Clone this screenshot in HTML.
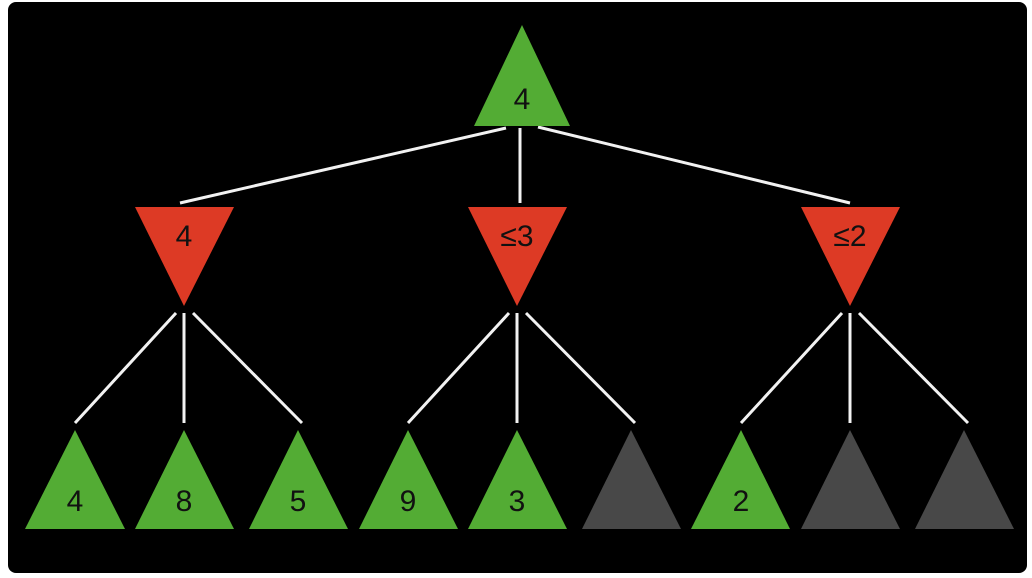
<!DOCTYPE html>
<html><head><style>
html,body{margin:0;padding:0;background:#fff;width:1032px;height:578px;overflow:hidden}
svg{display:block}
text{font-family:"Liberation Sans","DejaVu Sans",sans-serif;font-size:30px;fill:#111;text-anchor:middle}
</style></head><body>
<svg width="1032" height="578" viewBox="0 0 1032 578">
<rect x="8" y="2" width="1019" height="571" rx="8" fill="#000"/>
<g stroke="#f2f2f2" stroke-width="3">
<line x1="506" y1="128" x2="180" y2="203"/>
<line x1="520" y1="128" x2="520" y2="203"/>
<line x1="538" y1="127" x2="850" y2="203"/>
<line x1="176" y1="313" x2="75" y2="423"/>
<line x1="184" y1="313" x2="184" y2="423"/>
<line x1="193" y1="313" x2="302" y2="423"/>
<line x1="509" y1="313" x2="408" y2="423"/>
<line x1="517" y1="313" x2="517" y2="423"/>
<line x1="526" y1="313" x2="635" y2="423"/>
<line x1="842" y1="313" x2="741" y2="423"/>
<line x1="850" y1="313" x2="850" y2="423"/>
<line x1="859" y1="313" x2="968" y2="423"/>
</g>
<polygon points="522,25 570,126 474,126" fill="#53ac34"/>
<text x="522" y="109">4</text>
<g fill="#dd3a25">
<polygon points="135,207 234,207 184,306"/>
<polygon points="468,207 567,207 517,306"/>
<polygon points="801,207 900,207 850,306"/>
</g>
<text x="184" y="246">4</text>
<text x="517" y="246">≤3</text>
<text x="850" y="246">≤2</text>
<g fill="#53ac34">
<polygon points="75,430 125,529 25,529"/>
<polygon points="184,430 234,529 135,529"/>
<polygon points="298,430 348,529 249,529"/>
<polygon points="408,430 458,529 359,529"/>
<polygon points="517,430 567,529 468,529"/>
<polygon points="741,430 790,529 691,529"/>
</g>
<g fill="#484848">
<polygon points="631,430 681,529 582,529"/>
<polygon points="850,430 900,529 801,529"/>
<polygon points="964,430 1014,529 915,529"/>
</g>
<text x="75" y="511">4</text>
<text x="184" y="511">8</text>
<text x="298" y="511">5</text>
<text x="408" y="511">9</text>
<text x="517" y="511">3</text>
<text x="741" y="511">2</text>
</svg>
</body></html>
